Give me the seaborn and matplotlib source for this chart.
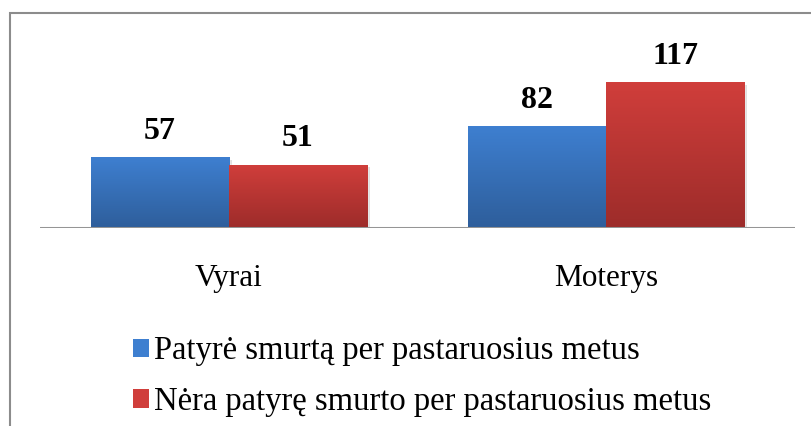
import numpy as np
import pandas as pd
import matplotlib
matplotlib.use("Agg")
import matplotlib.pyplot as plt
import matplotlib.patheffects as pe
from matplotlib.patches import Rectangle
from matplotlib.colors import LinearSegmentedColormap
import seaborn as sns

# Data
categories = ["Vyrai", "Moterys"]
series = ["Patyrė smurtą per pastaruosius metus",
          "Nėra patyrę smurto per pastaruosius metus"]
experienced = [57, 82]
not_experienced = [51, 117]

df = pd.DataFrame({
    "grupe": categories * 2,
    "serija": [series[0]] * 2 + [series[1]] * 2,
    "kiekis": experienced + not_experienced,
})

# gradient colours (top, bottom)
grad = {series[0]: ("#3e7fd0", "#2e5e9b"),
        series[1]: ("#d03e3b", "#9d2c2a")}

sns.set_style("white")
plt.rcParams["font.family"] = ["Liberation Serif", "DejaVu Serif"]
plt.rcParams["text.color"] = "black"
plt.rcParams["xtick.color"] = "black"

fig = plt.figure(figsize=(8.12, 4.26), dpi=100)
ax = fig.add_axes([40 / 812, 198 / 426, 755 / 812, 199 / 426])

sns.barplot(data=df, x="grupe", y="kiekis", hue="serija",
            palette={k: v[1] for k, v in grad.items()},
            width=0.732, saturation=1, ax=ax, legend=False)

# gradient fill on each bar
for cont, name in zip(ax.containers, series):
    top, bot = grad[name]
    cmap = LinearSegmentedColormap.from_list(name, [bot, top])
    for bar in cont:
        bar.set_path_effects([pe.SimplePatchShadow(offset=(2, -2), shadow_rgbFace="#000000", alpha=0.12),
                              pe.Normal()])
        x0, y0 = bar.get_x(), bar.get_y()
        w, h = bar.get_width(), bar.get_height()
        img = ax.imshow(np.linspace(0, 1, 100).reshape(-1, 1), cmap=cmap,
                        extent=[x0, x0 + w, y0, y0 + h], origin="lower",
                        aspect="auto", zorder=bar.get_zorder() + 0.5)
        img.set_clip_path(bar)
    ax.bar_label(cont, padding=8, fontsize=23, fontweight="bold", color="black")

ax.set_xlim(-0.5, 1.5)
ax.set_ylim(0, 160)

# baseline and axes cleanup
ax.axhline(0, color="#959595", lw=2.2, zorder=5)
sns.despine(ax=ax, left=True, bottom=True, top=True, right=True)
ax.set_yticks([])
ax.set_xlabel("")
ax.set_ylabel("")
ax.tick_params(axis="x", length=0, pad=26, labelsize=22.5, labelcolor="black")

# legend
handles = [Rectangle((0, 0), 1, 1, facecolor=grad[s][0], edgecolor="none") for s in series]
fig.legend(handles, series, loc="upper left", bbox_to_anchor=(133 / 812, 1 - 336 / 426),
           frameon=False, fontsize=23.5, handlelength=0.5, handleheight=0.5,
           handletextpad=0.15, labelspacing=0.62, borderaxespad=0, borderpad=0,
           labelcolor="black")

# outer border of the chart frame
fig.patches.append(Rectangle((10 / 812, -0.2), 1.2, 1.2 - 13 / 426,
                             transform=fig.transFigure, fill=False,
                             edgecolor="#8c8c8c", lw=1.5))

fig.savefig("out.png", dpi=100)
